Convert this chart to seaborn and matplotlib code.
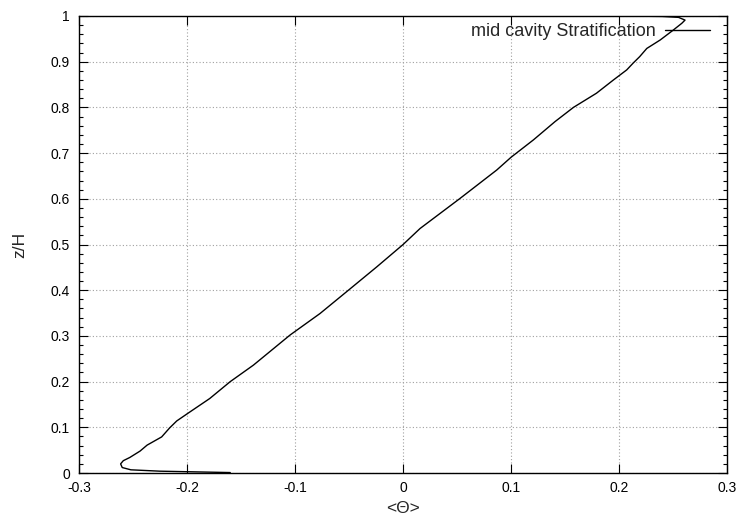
import matplotlib
matplotlib.use("Agg")
import matplotlib.pyplot as plt
import seaborn as sns
import pandas as pd
from matplotlib.ticker import MultipleLocator

theta = [-0.160, -0.225, -0.252, -0.260, -0.2615, -0.259, -0.253, -0.2435, -0.237,
         -0.2235, -0.216, -0.2095, -0.199, -0.179, -0.160, -0.1386, -0.1046, -0.0769,
         -0.0506, -0.0244, 0.000, 0.0157, 0.0528, 0.0867, 0.100, 0.1207, 0.1407,
         0.1577, 0.179, 0.1947, 0.207, 0.213, 0.219, 0.2256, 0.238, 0.250, 0.258,
         0.261, 0.255, 0.240, 0.201]
zH = [0.001, 0.004, 0.007, 0.012, 0.020, 0.027, 0.034, 0.048, 0.061,
      0.079, 0.099, 0.114, 0.131, 0.163, 0.200, 0.236, 0.302, 0.349,
      0.400, 0.451, 0.500, 0.535, 0.601, 0.663, 0.691, 0.729, 0.769,
      0.800, 0.831, 0.860, 0.882, 0.897, 0.911, 0.929, 0.9475, 0.969, 0.984,
      0.991, 0.997, 0.999, 1.000]
series_label = "mid cavity Stratification"
x_label = "<\u0398>"
y_label = "z/H"

sns.set_theme(style="white")
plt.rcParams['font.family'] = ['Liberation Sans', 'DejaVu Sans']

df = pd.DataFrame({"theta": theta, "z": zH})

fig = plt.figure(figsize=(7.42, 5.21), dpi=100)
ax = fig.add_axes([0.1065, 0.0921, 0.8735, 0.8772])

sns.lineplot(data=df, x="theta", y="z", sort=False, estimator=None,
             color="black", linewidth=1.0, label=series_label, ax=ax)

ax.set_xlim(-0.3, 0.3)
ax.set_ylim(0, 1)
ax.set_xticks([-0.3, -0.2, -0.1, 0, 0.1, 0.2, 0.3])
ax.set_xticklabels(["-0.3", "-0.2", "-0.1", "0", "0.1", "0.2", "0.3"])
ax.set_yticks([i / 10 for i in range(11)])
ax.set_yticklabels(["0", "0.1", "0.2", "0.3", "0.4", "0.5", "0.6", "0.7", "0.8", "0.9", "1"])
ax.yaxis.set_minor_locator(MultipleLocator(0.02))

ax.tick_params(which="both", direction="in", top=True, right=True, bottom=True, left=True,
               colors="black", labelsize=10)
ax.tick_params(which="major", length=6.5, width=0.8)
ax.tick_params(which="minor", length=3, width=0.8)
ax.tick_params(axis="x", pad=6)
ax.tick_params(axis="y", pad=6.5)

ax.grid(True, which="major", linestyle=(0, (1, 2)), color="#a0a0a0", linewidth=0.8)
for s in ax.spines.values():
    s.set_color("black")
    s.set_linewidth(1.0)

ax.set_xlabel(x_label, fontsize=12.5, labelpad=4)
ax.set_ylabel(y_label, fontsize=12.5, labelpad=17)

leg = ax.legend(loc="center right", bbox_to_anchor=(0.9738, 0.965), frameon=False,
                markerfirst=False, fontsize=13, handlelength=2.5, handletextpad=0.5,
                borderaxespad=0, borderpad=0)

fig.savefig("out.png", dpi=100)
